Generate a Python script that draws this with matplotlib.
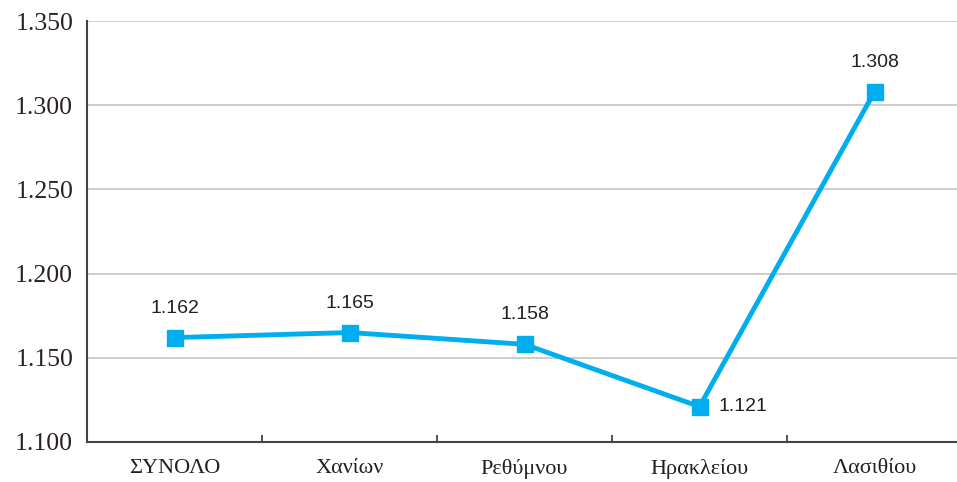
import numpy as np
import matplotlib.pyplot as plt

# Data
categories = ["ΣΥΝΟΛΟ", "Χανίων", "Ρεθύμνου", "Ηρακλείου", "Λασιθίου"]
values = [1.162, 1.165, 1.158, 1.121, 1.308]
y_ticks = [1.100, 1.150, 1.200, 1.250, 1.300, 1.350]
y_tick_labels = ["1.100", "1.150", "1.200", "1.250", "1.300", "1.350"]

line_color = "#00aeef"

fig = plt.figure(figsize=(9.57, 4.82), dpi=100)
W, H = 957, 482
ax = fig.add_axes([87 / W, 40 / H, 875 / W, 421 / H])

x = np.arange(len(categories))
ax.plot(x, values, color=line_color, lw=3.5, marker="s", markersize=12,
        markeredgecolor=line_color, zorder=3)

# value labels
for i, v in enumerate(values):
    if i == 3:
        ax.annotate(f"{v:.3f}", (i, v), xytext=(14, 0), textcoords="offset points",
                    ha="left", va="center", fontsize=14, family="Liberation Sans",
                    color="#231f20")
    else:
        ax.annotate(f"{v:.3f}", (i, v), xytext=(0, 15), textcoords="offset points",
                    ha="center", va="bottom", fontsize=14, family="Liberation Sans",
                    color="#231f20")

ax.set_xlim(-0.5, len(categories) - 0.5)
ax.set_ylim(1.100, 1.350)
ax.set_yticks(y_ticks)
ax.set_yticklabels(y_tick_labels, family="Liberation Serif", fontsize=18.5, color="#2a2020")
ax.tick_params(axis="y", length=0, pad=10)

# category labels centered, tick marks at boundaries
ax.set_xticks(x)
ax.set_xticklabels(categories, family="Liberation Serif", fontsize=16, color="#231f20")
ax.tick_params(axis="x", which="major", length=0, pad=12)
ax.set_xticks(np.arange(0.5, len(categories) - 0.5, 1), minor=True)
ax.tick_params(axis="x", which="minor", direction="in", length=5, width=1.3, color="#444444")

ax.grid(axis="y", color="#c8c8c8", lw=1.3)
ax.set_axisbelow(True)
for s in ["top", "right"]:
    ax.spines[s].set_visible(False)
for s in ["left", "bottom"]:
    ax.spines[s].set_color("#444444")
    ax.spines[s].set_linewidth(1.5)

fig.savefig("out.png", dpi=100)
